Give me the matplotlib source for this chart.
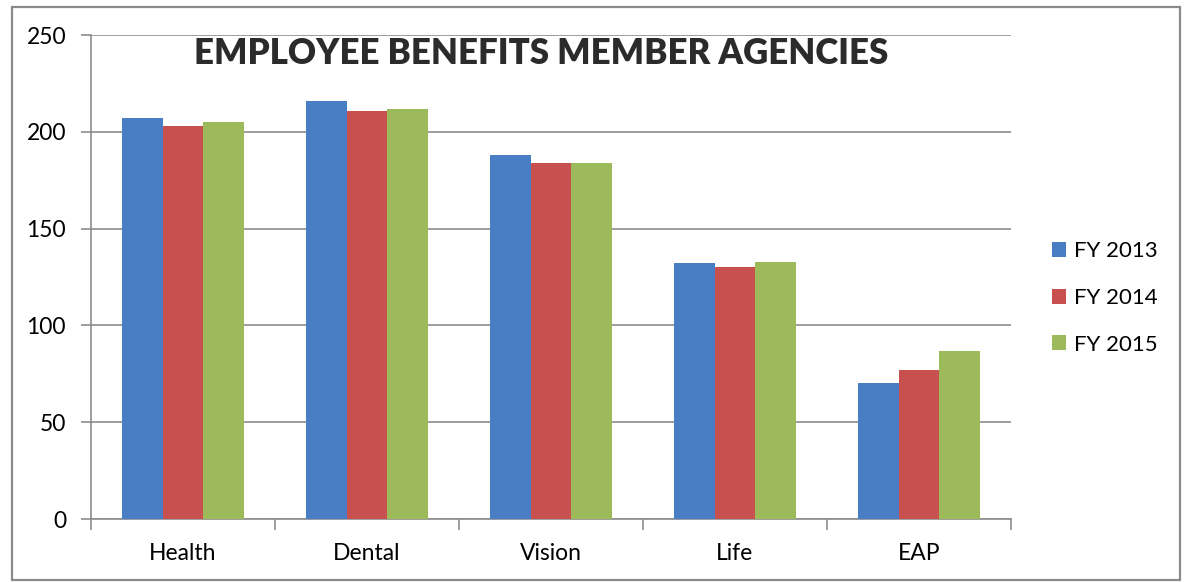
import matplotlib
matplotlib.use("Agg")
import matplotlib.pyplot as plt
import numpy as np
from matplotlib.patches import Patch, Rectangle

# Member agency counts by benefit type and fiscal year
categories = ["Health", "Dental", "Vision", "Life", "EAP"]
fy2013 = [207, 216, 188, 132, 70]
fy2014 = [203, 211, 184, 130, 77]
fy2015 = [205, 212, 184, 133, 87]
series_labels = ["FY 2013", "FY 2014", "FY 2015"]
yticks = [0, 50, 100, 150, 200, 250]

colors = ["#4A7EC4", "#C8504E", "#9CBA5A"]
grid_color = "#8c8c8c"
font = "Lato"

W, H = 1185, 582
fig = plt.figure(figsize=(W / 100, H / 100), dpi=100)
fig.patch.set_facecolor("white")

# outer chart frame
fig.add_artist(Rectangle((12 / W, 1 - 580 / H), (1180 - 12) / W, (580 - 7) / H,
                         transform=fig.transFigure, fill=False,
                         edgecolor="#8a8a8a", linewidth=1.6))

ax = fig.add_axes([91 / W, 1 - 519 / H, (1011 - 91) / W, (519 - 35) / H])

x = np.arange(len(categories))
bw = 1 / 4.5
for i, (vals, c) in enumerate(zip([fy2013, fy2014, fy2015], colors)):
    ax.bar(x + (i - 1) * bw, vals, width=bw, color=c, zorder=3,
           edgecolor="none")

ax.set_xlim(-0.5, len(categories) - 0.5)
ax.set_ylim(0, 250)
ax.set_yticks(yticks)
ax.set_yticklabels([str(t) for t in yticks], fontsize=16.5, family=font)
ax.yaxis.grid(True, color=grid_color, linewidth=1.2, zorder=0)
ax.set_axisbelow(True)

# category labels centred under groups, ticks between groups
ax.set_xticks(np.arange(len(categories) + 1) - 0.5)
ax.set_xticklabels([])
ax.set_xticks(x, minor=True)
ax.set_xticklabels(categories, minor=True, fontsize=16.5, family=font)
ax.tick_params(axis="x", which="minor", length=0, pad=17.5)
ax.tick_params(axis="x", which="major", length=8, width=1.2, color=grid_color)
ax.tick_params(axis="y", length=7, width=1.2, color=grid_color, pad=11)

for s in ["top", "right"]:
    ax.spines[s].set_visible(False)
for s in ["left", "bottom"]:
    ax.spines[s].set_color(grid_color)
    ax.spines[s].set_linewidth(1.2)

fig.text(541 / W, 1 - 54 / H, "EMPLOYEE BENEFITS MEMBER AGENCIES",
         ha="center", va="center", fontsize=25, fontweight="heavy",
         family=font, color="#2b2b2b")

handles = [Patch(facecolor=c, edgecolor="none") for c in colors]
fig.legend(handles, series_labels, loc="center left",
           bbox_to_anchor=(1052 / W, 1 - 298 / H), frameon=False,
           prop={"family": font, "size": 16}, handlelength=0.65,
           handleheight=0.65, handletextpad=0.35, labelspacing=1.2,
           borderpad=0, borderaxespad=0)

fig.savefig("out.png", dpi=100)
